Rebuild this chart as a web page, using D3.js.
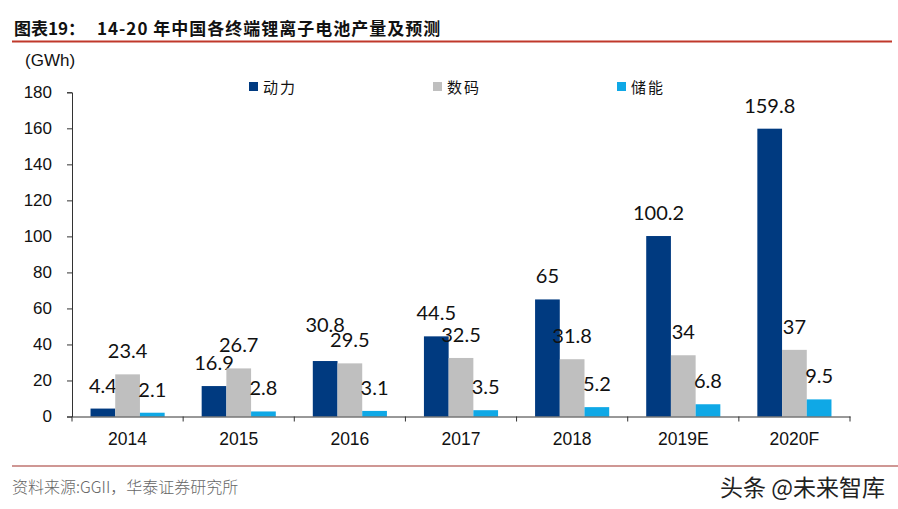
<!DOCTYPE html>
<html><head><meta charset="utf-8">
<script src="https://cdn.jsdelivr.net/npm/d3@7"></script>
<style>body{margin:0;background:#fff;}svg{display:block;}</style>
</head><body>
<svg id="c" width="898" height="509"></svg>
<script>
const categories = ["2014","2015","2016","2017","2018","2019E","2020F"];
const seriesNames = ["动力","数码","储能"];
const power = [4.4,16.9,30.8,44.5,65,100.2,159.8];
const digital = [23.4,26.7,29.5,32.5,31.8,34,37];
const storage = [2.1,2.8,3.1,3.5,5.2,6.8,9.5];
const yTicks = [0,20,40,60,80,100,120,140,160,180];
const colors = ["#003a80","#bfbfbf","#0fa8e6"];
const series = [power,digital,storage];

(function(){
const svg = d3.select("#c");
// title
svg.append("text").attr("x",14).attr("y",35).attr("font-family","'Noto Sans CJK SC'").attr("font-weight","bold").attr("font-size",17).attr("fill","#111").text("图表19：");
svg.append("text").attr("x",97).attr("y",35).attr("font-family","'Noto Sans CJK SC'").attr("font-weight","bold").attr("font-size",17).attr("letter-spacing",1).attr("fill","#111").text("14-20 年中国各终端锂离子电池产量及预测");
svg.append("line").attr("x1",12).attr("x2",892).attr("y1",41.5).attr("y2",41.5).attr("stroke","#c0392b").attr("stroke-width",2);

const pl=72, pr=850, pt=92.3, pb=416.5;
const x = d3.scaleBand().domain(categories).range([pl,pr]).paddingInner(0.333).paddingOuter(0.1667);
const xs = d3.scaleBand().domain([0,1,2]).range([0,x.bandwidth()]);
const y = d3.scaleLinear().domain([0,180]).range([pb,pt]);

svg.append("text").attr("x",25).attr("y",66).attr("font-family","Liberation Sans, Arial").attr("font-size",17).attr("fill","#111").text("(GWh)");

// y axis
const ya = svg.append("g").attr("transform",`translate(${pl},0)`).call(d3.axisLeft(y).tickValues(yTicks).tickSize(5).tickPadding(15));
ya.select(".domain").attr("stroke","#333");
ya.selectAll(".tick line").attr("stroke","#333");
ya.selectAll("text").attr("font-family","Liberation Sans, Arial").attr("font-size",17).attr("fill","#111");

// bars
categories.forEach((c,i)=>{
  series.forEach((s,j)=>{
    const bx = x(c)+xs(j);
    svg.append("rect").attr("x",bx).attr("y",y(s[i])).attr("width",xs.bandwidth()).attr("height",y(0)-y(s[i])).attr("fill",colors[j]);
    // label raised further where it would collide with the neighbouring label (as in the reference)
    const off = (j===0 && i===2) ? 29 : 16;
    svg.append("text").attr("x",bx+xs.bandwidth()/2).attr("y",y(s[i])-off).attr("text-anchor","middle")
      .attr("font-family","Lato, 'Open Sans'").attr("font-size",20).attr("fill","#111").text(s[i]);
  });
});

// x axis
const xa = svg.append("g").attr("transform",`translate(0,${pb})`).call(d3.axisBottom(x).tickSize(0).tickPadding(16));
xa.select(".domain").attr("stroke","#333");
xa.selectAll("text").attr("font-family","Liberation Sans, Arial").attr("font-size",17.5).attr("fill","#111");
const step = (pr-pl)/categories.length;
d3.range(categories.length+1).forEach(k=>{
  svg.append("line").attr("x1",pl+k*step).attr("x2",pl+k*step).attr("y1",pb).attr("y2",pb+5).attr("stroke","#333");
});

// legend
const legX=[249,433,617];
seriesNames.forEach((n,j)=>{
  svg.append("rect").attr("x",legX[j]).attr("y",82).attr("width",9).attr("height",9).attr("fill",colors[j]);
  svg.append("text").attr("x",legX[j]+14).attr("y",93).attr("font-family","'Noto Sans CJK SC'").attr("font-size",15).attr("letter-spacing",2).attr("fill","#111").text(n);
});

// footer
svg.append("line").attr("x1",12).attr("x2",898).attr("y1",466).attr("y2",466).attr("stroke","#a0302a").attr("stroke-width",1.2);
svg.append("text").attr("x",12).attr("y",493).attr("font-family","'Noto Sans CJK SC'").attr("font-weight",300).attr("font-size",16).attr("fill","#666").text("资料来源:GGII，华泰证券研究所");
svg.append("text").attr("x",885).attr("y",496).attr("text-anchor","end").attr("font-family","'Noto Sans CJK SC'").attr("font-size",23).attr("fill","#222").text("头条 @未来智库");
})();
</script>
</body></html>
